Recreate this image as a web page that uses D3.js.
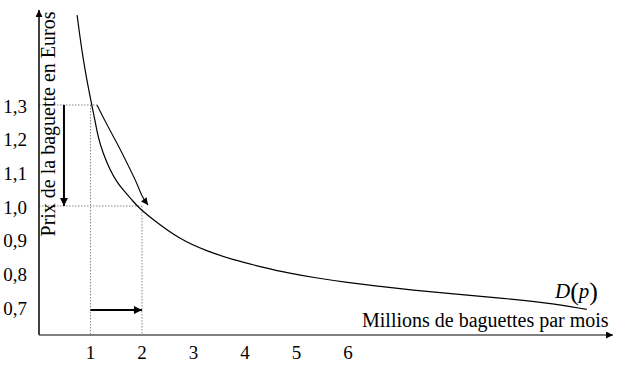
<!DOCTYPE html>
<html><head><meta charset="utf-8">
<script src="https://cdn.jsdelivr.net/npm/d3@7"></script>
<style>body{margin:0;background:#fff}svg{display:block}text{font-family:"Liberation Serif","Times New Roman",serif;fill:#000}</style>
</head><body>
<script>
// ---- data ----
const xTicks = [1, 2, 3, 4, 5, 6];
const yTicks = [0.7, 0.8, 0.9, 1.0, 1.1, 1.2, 1.3];
const yTickLabels = ["0,7", "0,8", "0,9", "1,0", "1,1", "1,2", "1,3"];
const demandQ = [0.74, 0.854, 1.023, 1.087, 1.146, 1.243, 1.379, 1.515, 1.631, 1.806, 1.922, 2.19, 2.74, 3.26, 3.77, 4.35, 4.87, 5.40, 5.98, 6.62, 7.26, 7.98, 8.82, 9.86, 10.64];
const demandP = [1.567, 1.434, 1.300, 1.255, 1.205, 1.157, 1.107, 1.071, 1.048, 1.018, 0.997, 0.962, 0.900, 0.866, 0.840, 0.818, 0.800, 0.786, 0.773, 0.761, 0.750, 0.740, 0.729, 0.713, 0.693];
const moveQ = [1.126, 1.320, 1.515, 1.709, 1.903, 2.0, 2.117];
const moveP = [1.300, 1.241, 1.187, 1.128, 1.068, 1.027, 1.003];
const priceOld = 1.3, priceNew = 1.0;
const qOld = 1, qNew = 2;
const priceArrowQ = 0.485;   // where the price-drop arrow stands
const qtyArrowP = 0.691;     // where the quantity arrow stands
const xTitle = "Millions de baguettes par mois";
const yTitle = "Prix de la baguette en Euros";

// ---- chart ----
const W = 624, H = 365;
const svg = d3.select("body").append("svg").attr("width", W).attr("height", H);
const x = d3.scaleLinear().domain([0, 11.15]).range([39, 613]);
const y = d3.scaleLinear().domain([0.6169, 1.582]).range([335, 10]);

const defs = svg.append("defs");
function marker(id, w, h) {
  defs.append("marker").attr("id", id).attr("viewBox", "0 0 10 10")
    .attr("refX", 10).attr("refY", 5).attr("markerUnits", "userSpaceOnUse")
    .attr("markerWidth", w).attr("markerHeight", h).attr("orient", "auto")
    .append("path").attr("d", "M0,0 L10,5 L0,10 z").attr("fill", "#000");
}
marker("ah", 9, 8);
marker("ahs", 8, 7);

// dotted guides
const dot = svg.append("g").attr("stroke", "#888").attr("stroke-width", 1).attr("stroke-dasharray", "1.5,1.5").attr("fill", "none");
dot.append("line").attr("x1", x(0)).attr("x2", x(moveQ[0])).attr("y1", y(priceOld)).attr("y2", y(priceOld));
dot.append("line").attr("x1", x(0)).attr("x2", x(qNew)).attr("y1", y(priceNew)).attr("y2", y(priceNew));
dot.append("line").attr("x1", x(qOld)).attr("x2", x(qOld)).attr("y1", y(priceOld)).attr("y2", y.range()[0]);
dot.append("line").attr("x1", x(qNew)).attr("x2", x(qNew)).attr("y1", y(priceNew)).attr("y2", y.range()[0]);

// axes
svg.append("line").attr("x1", x(0)).attr("x2", x(0)).attr("y1", y.range()[0]).attr("y2", y.range()[1])
  .attr("stroke", "#000").attr("stroke-width", 1.5).attr("marker-end", "url(#ahs)");
svg.append("line").attr("x1", x(0)).attr("x2", x.range()[1]).attr("y1", y.range()[0]).attr("y2", y.range()[0])
  .attr("stroke", "#555").attr("stroke-width", 1.6).attr("marker-end", "url(#ahs)");

// tick labels
svg.append("g").selectAll("text").data(xTicks).join("text")
  .attr("x", d => x(d)).attr("y", 359).attr("text-anchor", "middle").attr("font-size", 19).text(d => d);
svg.append("g").selectAll("text").data(yTicks).join("text")
  .attr("x", 27).attr("y", d => y(d) + 1).attr("dy", "0.35em").attr("text-anchor", "end").attr("font-size", 19)
  .text((d, i) => yTickLabels[i]);

// titles
svg.append("text").attr("transform", "translate(55,124) rotate(-90)").attr("text-anchor", "middle")
  .attr("font-size", 20).text(yTitle);
svg.append("text").attr("x", 362).attr("y", 327).attr("font-size", 20).text(xTitle);

// demand curve
const line = d3.line().x(d => x(d[0])).y(d => y(d[1])).curve(d3.curveBasis);
svg.append("path").datum(demandQ.map((q, i) => [q, demandP[i]])).attr("d", line)
  .attr("fill", "none").attr("stroke", "#000").attr("stroke-width", 1.2);

// movement arrow along curve
svg.append("path").datum(moveQ.map((q, i) => [q, moveP[i]])).attr("d", line)
  .attr("fill", "none").attr("stroke", "#000").attr("stroke-width", 1.1).attr("marker-end", "url(#ahs)");

// price drop arrow
svg.append("line").attr("x1", x(priceArrowQ)).attr("x2", x(priceArrowQ)).attr("y1", y(priceOld)).attr("y2", y(priceNew))
  .attr("stroke", "#000").attr("stroke-width", 2).attr("marker-end", "url(#ah)");
// quantity arrow
svg.append("line").attr("x1", x(qOld)).attr("x2", x(qNew)).attr("y1", y(qtyArrowP)).attr("y2", y(qtyArrowP))
  .attr("stroke", "#000").attr("stroke-width", 2).attr("marker-end", "url(#ah)");

// D(p) label
const lab = svg.append("text").attr("x", 598).attr("y", 298).attr("text-anchor", "end");
lab.append("tspan").attr("font-style", "italic").attr("font-size", 21).text("D");
lab.append("tspan").attr("font-size", 26).attr("dy", 2).text("(");
lab.append("tspan").attr("font-style", "italic").attr("font-size", 21).attr("dy", -2).text("p");
lab.append("tspan").attr("font-size", 26).attr("dy", 2).text(")");
</script>
</body></html>
